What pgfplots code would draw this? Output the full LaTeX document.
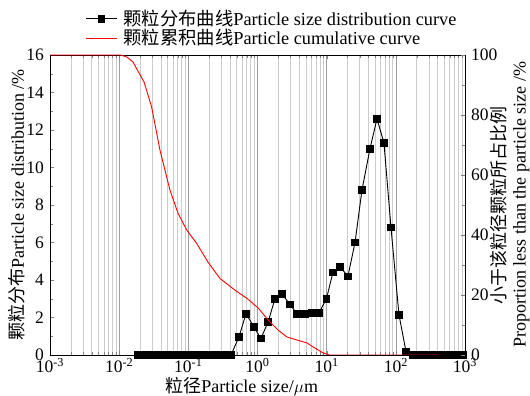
\documentclass[border=0pt]{standalone}
\usepackage{fontspec}
\setmainfont{Liberation Serif}
\newfontfamily\cjk{Noto Sans CJK SC}
\usepackage{pgfplots}
\pgfplotsset{compat=1.18}
\begin{document}
\fontsize{18bp}{21bp}\selectfont
\begin{tikzpicture}
\begin{semilogxaxis}[
  name=main,
  scale only axis, width=415bp, height=300bp,
  xmin=1e-3, xmax=1e3, ymin=0, ymax=16,
  axis y line*=left,
  xtick={1e-3,1e-2,1e-1,1,10,100,1000},
  xticklabels={10\textsuperscript{-3},10\textsuperscript{-2},10\textsuperscript{-1},10\textsuperscript{0},10\textsuperscript{1},10\textsuperscript{2},10\textsuperscript{3}},
  ytick={0,2,...,16}, minor y tick num=1,
  tick align=inside,
  xmajorgrids, xminorgrids,
  major grid style={gray!75, line width=0.6bp},
  minor grid style={gray!40, line width=0.6bp},
  /pgf/number format/assume math mode=true,
  tick label style={font=\fontsize{17.5bp}{20bp}\selectfont},
  xticklabel style={yshift=3bp},
  label style={font=\fontsize{18bp}{21bp}\selectfont},
  xlabel={{\cjk 粒径}Particle size/$\mu$m},
  ylabel={{\cjk 颗粒分布}Particle size distribution /\%},
  xlabel style={at={(axis description cs:0.462,-0.104)}, anchor=center},
  ylabel style={at={(axis description cs:-0.0795,0.5)}, anchor=center},
  legend style={at={(0.085,1.158)}, anchor=north west, draw=none, fill=none,
    font=\fontsize{18.3bp}{20bp}\selectfont, row sep=-3bp, inner sep=0pt,
    column sep=4bp, cells={anchor=west}},
  legend image code/.code={\draw[mark repeat=2,mark phase=2,#1] plot coordinates {(0cm,0cm)(0.55cm,0cm)(1.1cm,0cm)};},
]
\addplot[black, line width=0.9bp, mark=square*, mark size=3.3bp] coordinates {
(0.0185,0)(0.0235,0)(0.0298,0)(0.0379,0)(0.0481,0)(0.0611,0)(0.0776,0)(0.0986,0)(0.125,0)(0.159,0)(0.202,0)(0.257,0)(0.326,0)(0.414,0)
(0.539,0.96)(0.682,2.2)(0.889,1.5)(1.12,0.88)(1.42,1.75)(1.79,3.0)(2.26,3.25)(2.95,2.7)(3.72,2.2)(4.86,2.2)(6.14,2.25)(7.74,2.25)
(9.94,3.0)(12.3,4.4)(15.6,4.7)(20.3,4.2)(25.7,6.0)(32.4,8.8)(42.3,11.0)(53.4,12.6)(67.4,11.3)(85.1,6.8)(111,2.15)(140,0.2)
(178,0)(226,0)(287,0)(365,0)(464,0)(589,0)(748,0)(950,0)
};
\addlegendentry{{\cjk 颗粒分布曲线}Particle size distribution curve}
\addlegendimage{red, line width=0.9bp}
\addlegendentry{{\cjk 颗粒累积曲线}Particle cumulative curve}
\end{semilogxaxis}
\begin{semilogxaxis}[
  scale only axis, width=415bp, height=300bp,
  xmin=1e-3, xmax=1e3, ymin=0, ymax=100,
  axis y line*=right, axis x line=none,
  ytick={0,20,...,100}, minor y tick num=1,
  tick align=inside,
  /pgf/number format/assume math mode=true,
  tick label style={font=\fontsize{17.5bp}{20bp}\selectfont},
  label style={font=\fontsize{18bp}{20bp}\selectfont},
  ylabel={{\cjk 小于该粒径颗粒所占比例}\\Proportion less than the particle size /\%},
  ylabel style={align=center, at={(axis description cs:1.108,0.5)}, anchor=center},
]
\addplot[red, line width=0.9bp] coordinates {
(0.001,100)(0.0105,100)(0.013,99.3)(0.0158,97.7)(0.0229,91)(0.0294,82.8)(0.0389,68.3)(0.0542,55)(0.0708,47.3)(0.0946,41.7)
(0.132,37.2)(0.192,31)(0.287,25.5)(0.48,21.5)(0.72,18.7)(1.02,15.7)(1.42,11.7)(1.98,8.3)(2.67,6)(3.72,5)(5.2,4)(6.78,2.3)(8.85,0.7)(11,0)(420,0)
};
\end{semilogxaxis}
\pgfresetboundingbox
\path ([xshift=-50bp,yshift=-41bp]main.south west) rectangle ++(530bp,396bp);
\end{tikzpicture}
\end{document}
